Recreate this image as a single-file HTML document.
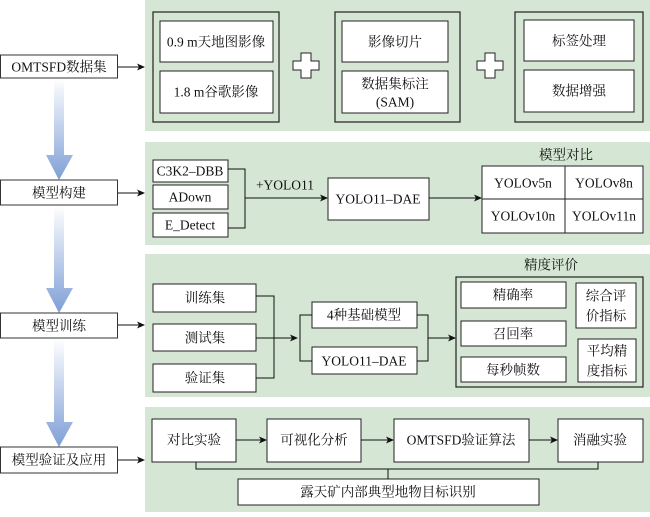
<!DOCTYPE html>
<html><head><meta charset="utf-8"><style>
body{margin:0;background:#fff}
svg text{font-family:"Liberation Serif","Noto Serif CJK SC",serif;font-size:13.5px;fill:#111;text-anchor:middle;dominant-baseline:central}
</style></head><body>
<svg width="650" height="512" viewBox="0 0 650 512" xmlns="http://www.w3.org/2000/svg">
<defs>
<marker id="a" markerWidth="8" markerHeight="8" refX="7" refY="4" orient="auto" markerUnits="userSpaceOnUse"><path d="M0,0.5 L8,4 L0,7.5 L2,4z" fill="#111"/></marker>
<linearGradient id="g" x1="0" y1="0" x2="0" y2="1"><stop offset="0" stop-color="#fff"/><stop offset="1" stop-color="#7e9fd6"/></linearGradient>
<linearGradient id="gh" x1="0" y1="0" x2="1" y2="0"><stop offset="0" stop-color="#a9c0e6"/><stop offset="0.5" stop-color="#e8eef9"/><stop offset="1" stop-color="#a9c0e6"/></linearGradient>
</defs>
<g fill="#d5e6d4">
<rect x="145" y="0" width="505" height="131"/>
<rect x="145" y="142" width="505" height="103"/>
<rect x="145" y="254" width="505" height="143"/>
<rect x="145" y="407" width="505" height="105"/>
</g>
<!-- blue arrows -->
<g>
<path d="M54,78 H64 V155 H73 L59,180 L46,155 H54Z" fill="url(#g)"/>
<path d="M54,205 H64 V288 H73 L59,313 L46,288 H54Z" fill="url(#g)"/>
<path d="M54,338 H64 V422 H73 L59,447 L46,422 H54Z" fill="url(#g)"/>
</g>
<g fill="#fff" stroke="#333" stroke-width="1">
<rect x="0.5" y="55" width="117" height="23"/>
<rect x="0.5" y="180" width="117" height="25"/>
<rect x="0.5" y="313" width="117" height="25"/>
<rect x="0.5" y="447" width="117" height="26"/>
</g>
<text x="59" y="67">OMTSFD数据集</text>
<text x="59" y="193">模型构建</text>
<text x="59" y="326">模型训练</text>
<text x="59" y="460">模型验证及应用</text>
<g stroke="#111" stroke-width="1" fill="none" marker-end="url(#a)">
<line x1="118" y1="67" x2="144" y2="67"/>
<line x1="118" y1="193" x2="144" y2="193"/>
<line x1="118" y1="325" x2="144" y2="325"/>
<line x1="118" y1="460" x2="144" y2="460"/>
</g>
<!-- panel 1 -->
<g fill="none" stroke="#222" stroke-width="1.2">
<rect x="153" y="12" width="126" height="110"/>
<rect x="335" y="12" width="125" height="110"/>
<rect x="515" y="12" width="128" height="110"/>
</g>
<g fill="#fff" stroke="#222" stroke-width="1">
<rect x="160" y="21" width="113" height="41"/><rect x="160" y="71" width="113" height="42"/>
<rect x="342" y="21" width="106" height="41"/><rect x="342" y="71" width="106" height="42"/>
<rect x="524" y="20" width="110" height="41"/><rect x="524" y="70" width="110" height="42"/>
<path d="M301,53 h10 v8 h8 v9 h-8 v8 h-10 v-8 h-8 v-9 h8z"/>
<path d="M485,53 h10 v8 h8 v9 h-8 v8 h-10 v-8 h-8 v-9 h8z"/>
</g>
<text x="216" y="42">0.9 m天地图影像</text>
<text x="216" y="92">1.8 m谷歌影像</text>
<text x="395" y="42">影像切片</text>
<text x="395" y="84">数据集标注</text>
<text x="395" y="102">(SAM)</text>
<text x="579" y="41">标签处理</text>
<text x="579" y="91">数据增强</text>
<!-- panel 2 -->
<g fill="#fff" stroke="#222" stroke-width="1">
<rect x="153" y="160" width="75" height="22"/>
<rect x="153" y="185" width="75" height="24"/>
<rect x="153" y="213" width="75" height="24"/>
<rect x="328" y="178" width="101" height="42"/>
<rect x="482" y="166" width="161" height="67"/>
</g>
<line x1="565" y1="166" x2="565" y2="233" stroke="#222"/>
<line x1="482" y1="199" x2="643" y2="199" stroke="#222"/>
<text x="190" y="171">C3K2–DBB</text>
<text x="190" y="197">ADown</text>
<text x="190" y="225">E_Detect</text>
<text x="378" y="199">YOLO11–DAE</text>
<text x="566" y="155">模型对比</text>
<text x="523" y="183">YOLOv5n</text>
<text x="604" y="183">YOLOv8n</text>
<text x="523" y="216">YOLOv10n</text>
<text x="604" y="216">YOLOv11n</text>
<text x="285" y="185">+YOLO11</text>
<g stroke="#111" fill="none">
<path d="M228,169 H245 V228 H228"/>
<line x1="245" y1="198" x2="327" y2="198" marker-end="url(#a)"/>
<line x1="429" y1="198" x2="481" y2="198" marker-end="url(#a)"/>
</g>
<!-- panel 3 -->
<g fill="#fff" stroke="#222" stroke-width="1">
<rect x="153" y="284" width="103" height="28"/>
<rect x="153" y="324" width="103" height="27"/>
<rect x="153" y="364" width="103" height="28"/>
<rect x="312" y="302" width="105" height="26"/>
<rect x="312" y="347" width="105" height="27"/>
</g>
<rect x="456" y="277" width="187" height="110" fill="none" stroke="#222" stroke-width="1.2"/>
<g fill="#fff" stroke="#222" stroke-width="1">
<rect x="461" y="282" width="105" height="26"/>
<rect x="461" y="321" width="105" height="25"/>
<rect x="461" y="357" width="105" height="25"/>
<rect x="576" y="283" width="60" height="45"/>
<rect x="578" y="339" width="58" height="43"/>
</g>
<text x="205" y="298">训练集</text>
<text x="205" y="338">测试集</text>
<text x="205" y="378">验证集</text>
<text x="364" y="315">4种基础模型</text>
<text x="364" y="361">YOLO11–DAE</text>
<text x="551" y="265">精度评价</text>
<text x="513" y="295">精确率</text>
<text x="513" y="334">召回率</text>
<text x="513" y="370">每秒帧数</text>
<text x="606" y="296">综合评</text>
<text x="606" y="316">价指标</text>
<text x="607" y="351">平均精</text>
<text x="607" y="371">度指标</text>
<g stroke="#111" fill="none">
<path d="M256,296 H274 V378 H256"/>
<line x1="256" y1="338" x2="297" y2="338" marker-end="url(#a)"/>
<path d="M312,315 H300 V361 H312"/>
<path d="M417,315 H428 V361 H417"/>
<line x1="428" y1="338" x2="455" y2="338" marker-end="url(#a)"/>
</g>
<!-- panel 4 -->
<g fill="#fff" stroke="#222" stroke-width="1">
<rect x="152" y="419" width="84" height="43"/>
<rect x="267" y="419" width="94" height="43"/>
<rect x="394" y="419" width="135" height="43"/>
<rect x="558" y="419" width="85" height="43"/>
<rect x="238" y="479" width="301" height="26"/>
</g>
<text x="194" y="440">对比实验</text>
<text x="314" y="440">可视化分析</text>
<text x="461" y="440">OMTSFD验证算法</text>
<text x="600" y="440">消融实验</text>
<text x="388" y="492">露天矿内部典型地物目标识别</text>
<g stroke="#111" fill="none">
<line x1="236" y1="440" x2="266" y2="440" marker-end="url(#a)"/>
<line x1="361" y1="440" x2="393" y2="440" marker-end="url(#a)"/>
<line x1="529" y1="440" x2="557" y2="440" marker-end="url(#a)"/>
<path d="M196,462 V469 H598 V462"/>
<line x1="388" y1="469" x2="388" y2="479"/>
</g>
</svg>
</body></html>
